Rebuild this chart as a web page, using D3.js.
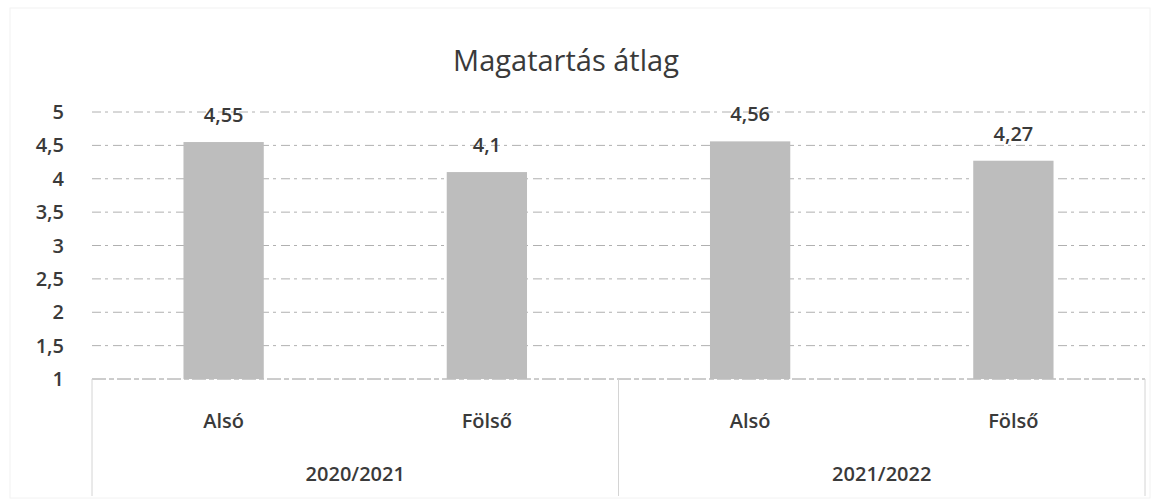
<!DOCTYPE html>
<html>
<head>
<meta charset="utf-8">
<script src="https://cdn.jsdelivr.net/npm/d3@7"></script>
<style>
  body { margin: 0; background: #fff; }
  text { font-family: "Open Sans", "DejaVu Sans", sans-serif; fill: #3a3a3a; }
</style>
</head>
<body>
<svg id="chart" width="1160" height="500"></svg>
<script>
const categories = ["Alsó", "Fölső", "Alsó", "Fölső"];
const groups = ["2020/2021", "2021/2022"];
const values = [4.55, 4.1, 4.56, 4.27];
const valueLabels = ["4,55", "4,1", "4,56", "4,27"];
const yTicks = [1, 1.5, 2, 2.5, 3, 3.5, 4, 4.5, 5];

const width = 1160, height = 500;
const plotLeft = 92, plotRight = 1145, plotTop = 112, plotBottom = 379;

const svg = d3.select("#chart");

// outer chart frame, very faint
svg.append("rect")
  .attr("x", 10).attr("y", 8)
  .attr("width", width - 20).attr("height", height - 10)
  .attr("fill", "none").attr("stroke", "#f2f2f2");

const x = d3.scaleBand()
  .domain(d3.range(categories.length))
  .range([plotLeft, plotRight])
  .paddingInner(0.695)
  .paddingOuter(0.3475);

const y = d3.scaleLinear().domain([1, 5]).range([plotBottom, plotTop]);

// gridlines
svg.append("g")
  .selectAll("line")
  .data(yTicks)
  .enter()
  .append("line")
  .attr("x1", plotLeft).attr("x2", plotRight)
  .attr("y1", d => y(d)).attr("y2", d => y(d))
  .attr("stroke", d => d === 1 ? "#9a9a9a" : "#b0b0b0")
  .attr("stroke-width", 1)
  .attr("stroke-dasharray", d => d === 1 ? "14,3,5,3" : "9,4,3,5");

// y tick labels
svg.append("g")
  .selectAll("text")
  .data(yTicks)
  .enter()
  .append("text")
  .attr("x", 64)
  .attr("y", d => y(d))
  .attr("dy", "0.35em")
  .attr("text-anchor", "end")
  .style("font-size", "20px")
  .style("font-weight", "600")
  .text(d => String(d).replace(".", ","));

// bars
svg.append("g")
  .selectAll("rect")
  .data(values)
  .enter()
  .append("rect")
  .attr("x", (d, i) => x(i))
  .attr("y", d => y(d))
  .attr("width", x.bandwidth())
  .attr("height", d => y(1) - y(d))
  .attr("fill", "#bdbdbd");

// value labels
svg.append("g")
  .selectAll("text")
  .data(values)
  .enter()
  .append("text")
  .attr("x", (d, i) => x(i) + x.bandwidth() / 2)
  .attr("y", d => y(d) - 20)
  .attr("text-anchor", "middle")
  .style("font-size", "20px")
  .style("font-weight", "600")
  .text((d, i) => valueLabels[i]);

// category axis: labels and group separators
const step = x.step();
svg.append("g")
  .selectAll("text")
  .data(categories)
  .enter()
  .append("text")
  .attr("x", (d, i) => x(i) + x.bandwidth() / 2)
  .attr("y", 428)
  .attr("text-anchor", "middle")
  .style("font-size", "20px")
  .style("font-weight", "600")
  .text(d => d);

const groupEdges = [plotLeft, plotLeft + 2 * step, plotRight];
svg.append("g")
  .selectAll("line")
  .data(groupEdges)
  .enter()
  .append("line")
  .attr("x1", d => d).attr("x2", d => d)
  .attr("y1", plotBottom).attr("y2", 496)
  .attr("stroke", "#d4d4d4");

svg.append("g")
  .selectAll("text")
  .data(groups)
  .enter()
  .append("text")
  .attr("x", (d, i) => plotLeft + step * (2 * i + 1))
  .attr("y", 481)
  .attr("text-anchor", "middle")
  .style("font-size", "20px")
  .style("font-weight", "600")
  .text(d => d);

// title
svg.append("text")
  .attr("x", 566)
  .attr("y", 71)
  .attr("text-anchor", "middle")
  .style("font-size", "29px")
  .style("font-weight", "500")
  .text("Magatartás átlag");
</script>
</body>
</html>
